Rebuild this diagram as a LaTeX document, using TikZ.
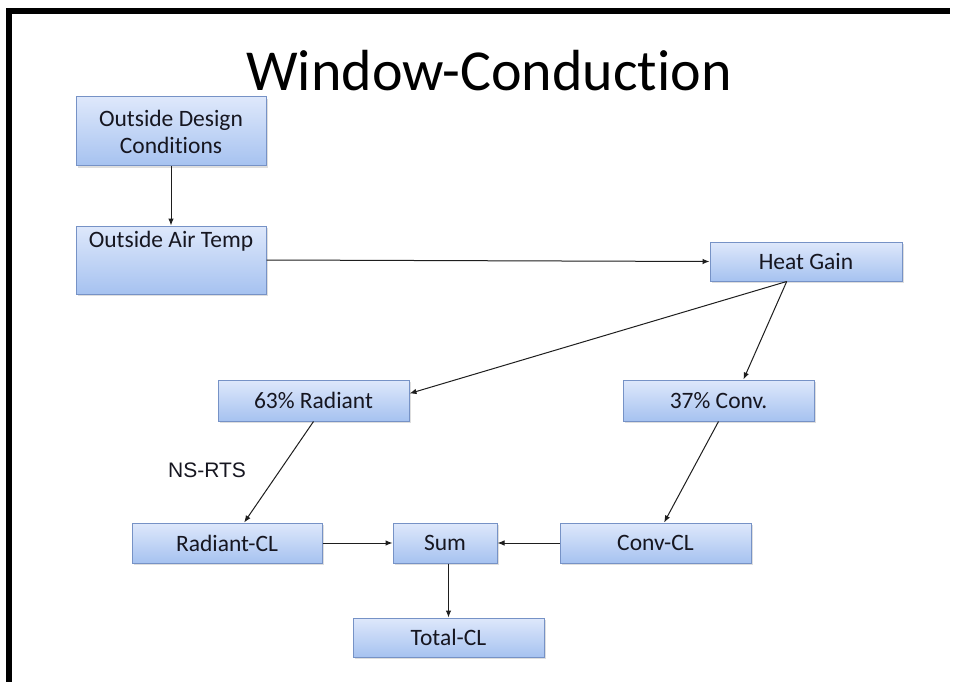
\documentclass[tikz,border=0pt]{standalone}
\usepackage{fontspec}
\setmainfont{Carlito}[Ligatures={NoCommon}]
\newfontfamily\arialfont{Liberation Sans}
\usetikzlibrary{arrows.meta,calc}
\definecolor{boxtop}{RGB}{222,232,251}
\definecolor{boxbot}{RGB}{166,194,240}
\definecolor{boxline}{RGB}{118,146,198}
\definecolor{txtcol}{RGB}{22,22,32}
\definecolor{arrcol}{RGB}{30,30,30}
\tikzset{
  x=1pt, y=-1pt,
  blockbox/.style={draw=boxline, line width=1pt, top color=boxtop, bottom color=boxbot,
    rectangle, inner sep=0pt, font=\fontsize{23.5}{27}\selectfont, text=txtcol, align=center,
    preaction={fill=black, opacity=0.13, transform canvas={xshift=1.5pt, yshift=-2pt}}},
  plaintext/.style={inner sep=0pt, font=\fontsize{23.5}{27}\selectfont, text=txtcol, align=center},
  flow/.style={draw=arrcol, line width=1pt, -{Latex[length=7pt,width=5.5pt]}}
}
\begin{document}
\begin{tikzpicture}
\fill[white] (0,0) rectangle (956,682);
\useasboundingbox (0,0) rectangle (956,682);
% frame bars
\fill[black] (6,8) rectangle (950,14);
\fill[black] (6,8) rectangle (12,682);

\node[inner sep=0pt, font=\fontsize{58}{62}\selectfont, text=black] (title) at (489,71) {Window-Conduction};

\node[blockbox, minimum width=190pt, minimum height=69pt] (odc) at (171,131.5) {Outside Design\\Conditions};
\node[blockbox, minimum width=190pt, minimum height=68pt] (oat) at (171,260) {};
\node[plaintext] (oatlabel) at (171,241) {Outside Air Temp};
\node[blockbox, minimum width=192pt, minimum height=39pt] (hg) at (806,261.5) {Heat Gain};
\node[blockbox, minimum width=191pt, minimum height=41pt] (rad) at (313.5,400.5) {63\% Radiant};
\node[blockbox, minimum width=191pt, minimum height=41pt] (conv) at (718.5,400.5) {37\% Conv.};
\node[blockbox, minimum width=190pt, minimum height=40pt] (radcl) at (227,543) {Radiant-CL};
\node[blockbox, minimum width=104pt, minimum height=40pt] (sum) at (445,543) {Sum};
\node[blockbox, minimum width=191pt, minimum height=40pt] (convcl) at (655.5,543) {Conv-CL};
\node[blockbox, minimum width=191pt, minimum height=39pt] (tot) at (448.5,637.5) {Total-CL};

\node[inner sep=0pt, font=\arialfont\fontsize{21}{24}\selectfont, text=txtcol] (nsrts) at (207,470) {NS-RTS};

\coordinate (hgout) at ($(hg.south west)!0.40!(hg.south east)$);
\draw[flow] (odc.south) -- (oat.north);
\draw[flow] (oat.east) -- (hg.west);
\draw[flow] (hgout) -- ([yshift=7pt]rad.east);
\draw[flow] (hgout) -- ($(conv.north west)!0.63!(conv.north east)$);
\draw[flow] (rad.south) -- ($(radcl.north west)!0.59!(radcl.north east)$);
\draw[flow] (conv.south) -- ($(convcl.north west)!0.545!(convcl.north east)$);
\draw[flow] (radcl.east) -- (sum.west);
\draw[flow] (convcl.west) -- (sum.east);
\draw[flow] (sum.south -| tot.north) -- (tot.north);
\end{tikzpicture}
\end{document}
